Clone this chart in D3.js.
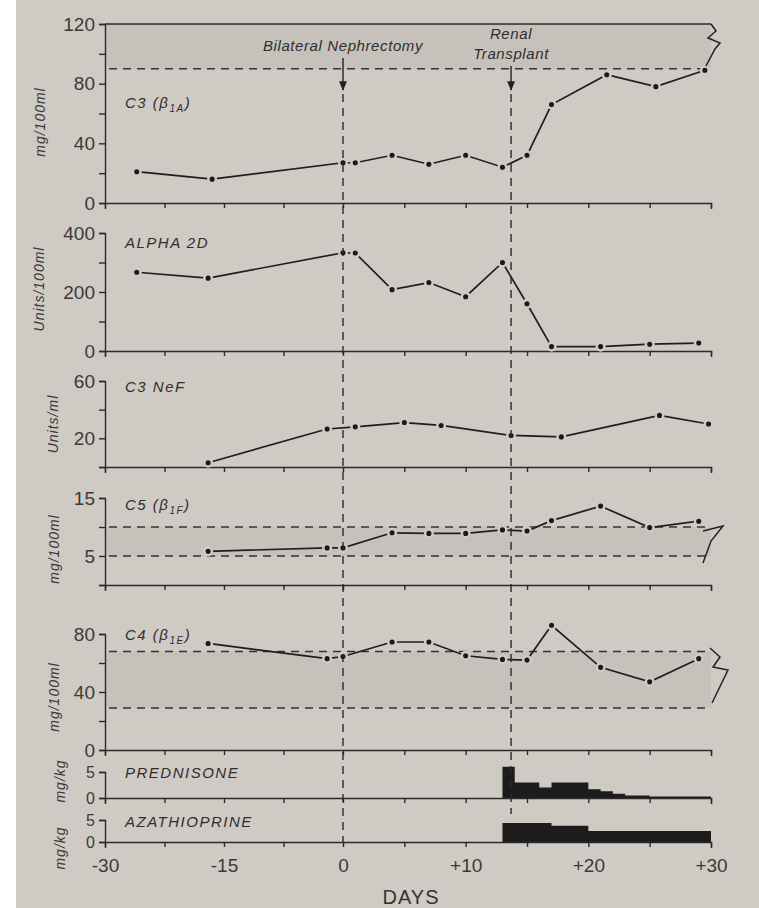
<!DOCTYPE html>
<meta charset="utf-8">
<style>
body { margin: 0; background: #fff; }
svg { display: block; font-family: "Liberation Sans", Arial, sans-serif; }
.axis path, .axis line { stroke: #2a2a2a; stroke-width: 1.4px; fill: none; }
.axis text { fill: #3a3a3a; font-size: 19px; font-family: "Liberation Sans", Arial, sans-serif; }
.drug .axis text { font-size: 16px; }
.series { fill: none; stroke: #1e1e1e; stroke-width: 1.7px; }
.dot { fill: #1a1a1a; stroke: #cfcbc4; stroke-width: 2.5px; }
.ref { stroke: #333; stroke-width: 1.5px; stroke-dasharray: 8,6; fill: none; }
.event { stroke: #2a2a2a; stroke-width: 1.4px; stroke-dasharray: 8,6; }
.shade { fill: #8d8881; opacity: 0.13; }
.lbl { font-style: italic; fill: #2e2e2e; font-size: 15px; letter-spacing: 1.5px; }
.unit { font-style: italic; fill: #3a3a3a; font-size: 14px; letter-spacing: 1px; }
.note { font-style: italic; fill: #2e2e2e; font-size: 15px; letter-spacing: 0.6px; }
</style>
<body>
<script src="https://d3js.org/d3.v7.min.js"></script>
<script>

// day axis
var dayTicks = [-30, -22.5, -15, -7.5, 0, 5, 10, 15, 20, 25, 30];
var dayLabels = [-30, -15, 0, 10, 20, 30];
var nephrectomyDay = 0;
var transplantDay = 13.7;

// C3 (beta 1A), mg/100ml
var c3Days   = [-26, -16.5, 0, 1, 4, 7, 10, 13, 15, 17, 21.5, 25.5, 29.5];
var c3Values = [21, 16, 27, 27, 32, 26, 32, 24, 32, 66, 86, 78, 89];
var c3Normal = [90, 120];

// Alpha 2D, units/100ml
var alphaDays   = [-26, -17, 0, 1, 4, 7, 10, 13, 15, 17, 21, 25, 29];
var alphaValues = [267, 247, 333, 332, 208, 232, 184, 300, 160, 15, 15, 23, 27];

// C3 NeF, units/ml
var nefDays   = [-17, -2, 1, 5, 8, 13.7, 17.8, 25.8, 29.8];
var nefValues = [3, 26.5, 28, 31, 29, 22, 21, 36, 30];

// C5 (beta 1F), mg/100ml
var c5Days   = [-17, -2, 0, 4, 7, 10, 13, 15, 17, 21, 25, 29];
var c5Values = [5.8, 6.4, 6.4, 9.0, 8.9, 8.9, 9.5, 9.3, 11.1, 13.6, 9.9, 11.0];
var c5Normal = [5, 10];

// C4 (beta 1E), mg/100ml
var c4Days   = [-17, -2, 0, 4, 7, 10, 13, 15, 17, 21, 25, 29];
var c4Values = [73.5, 63, 64.5, 74.5, 74.5, 65, 62.5, 62, 86, 57, 47, 63];
var c4Normal = [29, 68];

// drugs, mg/kg (step starts)
var predDays = [13, 14, 16, 17, 20, 21, 22, 23, 25, 30];
var predDose = [6, 3, 2, 3, 1.7, 1.3, 0.8, 0.5, 0.3, 0.2];
var azaDays  = [13, 17, 20, 30];
var azaDose  = [4.3, 3.7, 2.5, 2.4];

var width = 759, height = 908;

var svg = d3.select("body").append("svg")
    .attr("width", width)
    .attr("height", height);

// paper
svg.append("rect")
    .attr("x", 16).attr("y", 0)
    .attr("width", width - 16).attr("height", height)
    .attr("fill", "#cfcbc4");

// broken day scale: left half compressed
var x = d3.scaleLinear().domain([-30, 0, 30]).range([105, 343, 711]);

function fmtDay(d) {
  if (d > 0) return "+" + d;
  if (d < 0) return "-" + Math.abs(d);
  return "0";
}

var panels = [
  {days: c3Days, vals: c3Values, domain: [0, 120], range: [203, 24], ticks: [0, 20, 40, 60, 80, 100, 120],
   labels: [0, 40, 80, 120], normal: c3Normal, unit: "mg/100ml", ux: 40, uy: 122,
   title: ["C3 (β", "1A", ")"], ty: 108, top: true},
  {days: alphaDays, vals: alphaValues, domain: [0, 400], range: [351, 233], ticks: [0, 100, 200, 300, 400],
   labels: [0, 200, 400], unit: "Units/100ml", ux: 39, uy: 289, title: ["ALPHA 2D"], ty: 248},
  {days: nefDays, vals: nefValues, domain: [0, 60], range: [467, 381], ticks: [0, 20, 40, 60],
   labels: [20, 60], unit: "Units/ml", ux: 53, uy: 424, title: ["C3 NeF"], ty: 392},
  {days: c5Days, vals: c5Values, domain: [0, 15], range: [585, 498], ticks: [0, 5, 10, 15],
   labels: [5, 15], normal: c5Normal, unit: "mg/100ml", ux: 54, uy: 549,
   title: ["C5 (β", "1F", ")"], ty: 510},
  {days: c4Days, vals: c4Values, domain: [0, 80], range: [750, 634], ticks: [0, 20, 40, 60, 80],
   labels: [0, 40, 80], normal: c4Normal, unit: "mg/100ml", ux: 54, uy: 697,
   title: ["C4 (β", "1E", ")"], ty: 640}
];

panels.forEach(function(p, i) {
  var y = d3.scaleLinear().domain(p.domain).range(p.range);
  var g = svg.append("g");

  // normal range band
  if (p.normal) {
    g.append("rect")
        .attr("class", "shade")
        .attr("x", x(-30))
        .attr("y", y(p.normal[1]))
        .attr("width", x(30) - x(-30))
        .attr("height", y(p.normal[0]) - y(p.normal[1]));
    p.normal.forEach(function(v) {
      if (v === p.domain[1]) return;
      g.append("line")
          .attr("class", "ref")
          .attr("x1", x(-30) + 4).attr("x2", x(30))
          .attr("y1", y(v)).attr("y2", y(v));
    });
  }

  // top border of first panel
  if (p.top) {
    g.append("line")
        .attr("stroke", "#2a2a2a").attr("stroke-width", 1.4)
        .attr("x1", x(-30)).attr("x2", x(30))
        .attr("y1", y(120)).attr("y2", y(120));
  }

  // y axis
  g.append("g")
      .attr("class", "axis")
      .attr("transform", "translate(" + x(-30) + ",0)")
      .call(d3.axisLeft(y).tickValues(p.ticks).tickSize(6).tickSizeOuter(6).tickPadding(4)
        .tickFormat(function(d) { return p.labels.indexOf(d) >= 0 ? d : ""; }));

  // baseline with day ticks
  g.append("g")
      .attr("class", "axis")
      .attr("transform", "translate(0," + y(0) + ")")
      .call(d3.axisBottom(x).tickValues(dayTicks).tickSize(5).tickSizeOuter(6).tickFormat(""));

  // series
  var pts = p.days.map(function(d, k) { return [x(d), y(p.vals[k])]; });
  g.append("path")
      .attr("class", "series")
      .attr("d", d3.line()(pts));
  g.selectAll(".dot").data(pts).enter().append("circle")
      .attr("class", "dot")
      .attr("cx", function(d) { return d[0]; })
      .attr("cy", function(d) { return d[1]; })
      .attr("r", 3.8);

  // labels
  var t = g.append("text").attr("class", "lbl").attr("x", x(-30) + 20).attr("y", p.ty);
  t.append("tspan").text(p.title[0]);
  if (p.title.length > 1) {
    t.append("tspan").attr("dy", 4).attr("font-size", 10).text(p.title[1]);
    t.append("tspan").attr("dy", -4).text(p.title[2]);
  }
  g.append("text")
      .attr("class", "unit")
      .attr("text-anchor", "middle")
      .attr("transform", "translate(" + p.ux + "," + p.uy + ") rotate(-90)")
      .attr("dy", "0.35em")
      .text(p.unit);
});

// drug panels
var drugs = [
  {days: predDays, dose: predDose, range: [798, 772], name: "PREDNISONE", ty: 778, uy: 781, last: false},
  {days: azaDays, dose: azaDose, range: [842, 820], name: "AZATHIOPRINE", ty: 827, uy: 848, last: true}
];

drugs.forEach(function(p) {
  var y = d3.scaleLinear().domain([0, 5]).range(p.range);
  var g = svg.append("g").attr("class", "drug");
  var rows = p.days.map(function(d, k) { return {d: d, v: p.dose[k]}; });
  g.append("path")
      .attr("fill", "#1c1c1c")
      .attr("d", d3.area()
        .curve(d3.curveStepAfter)
        .x(function(d) { return x(d.d); })
        .y0(y(0))
        .y1(function(d) { return y(d.v); })(rows));

  g.append("g")
      .attr("class", "axis")
      .attr("transform", "translate(" + x(-30) + ",0)")
      .call(d3.axisLeft(y).tickValues([0, 5]).tickSize(6).tickSizeOuter(6).tickPadding(4)
        .tickFormat(d3.format("d")));

  var ax = d3.axisBottom(x).tickValues(dayTicks).tickSize(5).tickSizeOuter(6).tickPadding(12)
      .tickFormat(function(d) { return p.last && dayLabels.indexOf(d) >= 0 ? fmtDay(d) : ""; });
  var axg = g.append("g")
      .attr("class", "axis")
      .attr("transform", "translate(0," + y(0) + ")")
      .call(ax);
  axg.selectAll("text").style("font-size", "19px");

  g.append("text").attr("class", "lbl").attr("x", x(-30) + 20).attr("y", p.ty).text(p.name);
  g.append("text")
      .attr("class", "unit")
      .attr("text-anchor", "middle")
      .attr("transform", "translate(60," + p.uy + ") rotate(-90)")
      .attr("dy", "0.35em")
      .text("mg/kg");
});

// x title
svg.append("text")
    .attr("x", 411).attr("y", 904)
    .attr("text-anchor", "middle")
    .attr("fill", "#333")
    .attr("font-size", 20)
    .attr("letter-spacing", 1)
    .text("DAYS");

// event lines
svg.append("defs").append("marker")
    .attr("id", "arr")
    .attr("viewBox", "0 0 10 10")
    .attr("refX", 9).attr("refY", 5)
    .attr("markerWidth", 7).attr("markerHeight", 9)
    .attr("orient", "auto")
  .append("path")
    .attr("d", "M0,1 L10,5 L0,9 Z")
    .attr("fill", "#222");

var events = [
  {day: nephrectomyDay, lines: ["Bilateral Nephrectomy"], ty: [51], a0: 58, a1: 90, end: 842},
  {day: transplantDay, lines: ["Renal", "Transplant"], ty: [39, 59], a0: 66, a1: 90, end: 814}
];
events.forEach(function(e) {
  var ex = x(e.day);
  e.lines.forEach(function(s, k) {
    svg.append("text").attr("class", "note")
        .attr("x", ex).attr("y", e.ty[k])
        .attr("text-anchor", "middle").text(s);
  });
  svg.append("line")
      .attr("stroke", "#222").attr("stroke-width", 1.4)
      .attr("x1", ex).attr("x2", ex).attr("y1", e.a0).attr("y2", e.a1)
      .attr("marker-end", "url(#arr)");
  svg.append("line")
      .attr("class", "event")
      .attr("x1", ex).attr("x2", ex).attr("y1", e.a1 + 4).attr("y2", e.end);
});

// axis-break marks at right edge
var xr = x(30);
var breaks = [
  [[0, 24], [5, 31], [-3, 38], [9, 43], [4, 49], [-5, 66]],
  [[-8, 531], [12, 526], [0, 541], [-8, 563]],
  [[-1, 648], [9, 657], [2, 667], [17, 670], [1, 703]]
];
breaks.forEach(function(b) {
  svg.append("path")
      .attr("fill", "none").attr("stroke", "#222").attr("stroke-width", 1.5)
      .attr("d", d3.line()(b.map(function(q) { return [xr + q[0], q[1]]; })));
});

</script>
</body>
